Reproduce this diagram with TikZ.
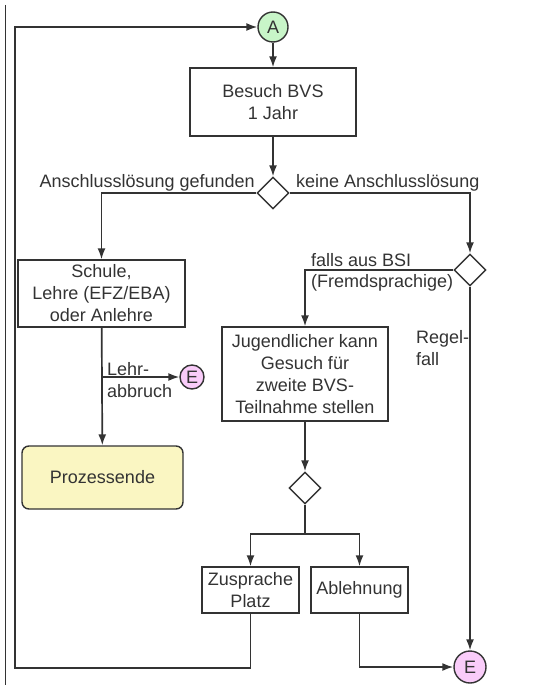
\documentclass[tikz,border=0pt]{standalone}
\usepackage{fontspec}
\setmainfont{Liberation Sans}
\usetikzlibrary{arrows.meta,shapes.geometric,positioning}

\definecolor{linegray}{HTML}{333333}
\definecolor{startgreen}{HTML}{C8F5C8}
\definecolor{endpink}{HTML}{F9CCF9}
\definecolor{endyellow}{HTML}{FAF6C2}

\begin{document}
\begin{tikzpicture}[x=1pt,y=-1pt,
	every node/.style={font=\fontsize{18}{22}\selectfont,text=linegray},
	box/.style={draw=linegray,line width=1.4pt,rectangle,align=center,inner sep=0pt},
	connector/.style={draw=linegray,line width=1.4pt,circle,inner sep=0pt},
	choice/.style={draw=linegray,line width=1.4pt,diamond,inner sep=0pt,minimum width=32pt,minimum height=32pt},
	flow/.style={draw=linegray,line width=1.7pt},
	arr/.style={flow,-{Latex[length=11pt,width=8pt]}},
	lbl/.style={inner sep=0pt}]
	\useasboundingbox (0,0) rectangle (541,687);

	\node[connector,fill=startgreen,minimum size=30pt] (A) at (273,27) {A};
	\node[box,minimum width=166pt,minimum height=68pt] (besuch) at (273,102) {Besuch BVS\\1 Jahr};
	\node[choice] (d1) at (273,193) {};
	\node[box,minimum width=167pt,minimum height=67pt] (schule) at (101.5,293.5) {Schule,\\Lehre (EFZ/EBA)\\oder Anlehre};
	\node[box,rounded corners=7pt,fill=endyellow,minimum width=161pt,minimum height=63pt] (ende) at (102.5,477.5) {Prozessende};
	\node[connector,fill=endpink,minimum size=24pt] (e1) at (192,377) {E};
	\node[choice] (d2) at (470,270) {};
	\node[box,minimum width=166pt,minimum height=94pt] (jug) at (305,374) {Jugendlicher kann\\Gesuch f\"ur\\zweite BVS-\\Teilnahme stellen};
	\node[choice] (d3) at (305,488) {};
	\node[box,minimum width=97pt,minimum height=46pt] (zus) at (250.5,590) {Zusprache\\Platz};
	\node[box,minimum width=97pt,minimum height=46pt] (abl) at (359.5,590) {Ablehnung};
	\node[connector,fill=endpink,minimum size=32pt] (e2) at (470,667) {E};

	\coordinate (split) at (305,534);
	\coordinate (loopbl) at (15,668);
	\coordinate (looptl) at (15,27);
	\coordinate (abbr) at (schule.south |- e1);

	\draw[arr] (A) -- (besuch);
	\draw[arr] (besuch) -- (d1);
	\draw[arr] (d1.west) -| (schule.north);
	\draw[arr] (d1.east) -| (d2.north);
	\draw[arr] (schule) -- (ende);
	\draw[arr] (abbr) -- (e1);
	\draw[arr] (d2.west) -| (jug.north);
	\draw[arr] (d2.south) -- (e2.north);
	\draw[arr] (jug) -- (d3);
	\draw[flow] (d3.south) -- (split);
	\draw[arr] (split) -| (zus.north);
	\draw[arr] (split) -| (abl.north);
	\draw[arr] (abl.south) |- (e2.west);
	\draw[arr] (zus.south) |- (loopbl) -- (looptl) -- (A.west);
	\draw[draw=linegray,line width=1.2pt] (5.5,5) -- (5.5,685);

	\node[lbl,anchor=base east] (lgef) at (255,187) {Anschlussl\"osung gefunden};
	\node[lbl,anchor=base west] (lkeine) at (296,187) {keine Anschlussl\"osung};
	\node[lbl,anchor=base west] (lbsi) at (311,266) {falls aus BSI};
	\node[lbl,anchor=base west] (lfremd) at (311,287) {(Fremdsprachige)};
	\node[lbl,anchor=north west,align=left] (lregel) at (416,330) {Regel-\\fall};
	\node[lbl,anchor=north west,align=left] (lehr) at (107,362) {Lehr-\\abbruch};
\end{tikzpicture}
\end{document}
